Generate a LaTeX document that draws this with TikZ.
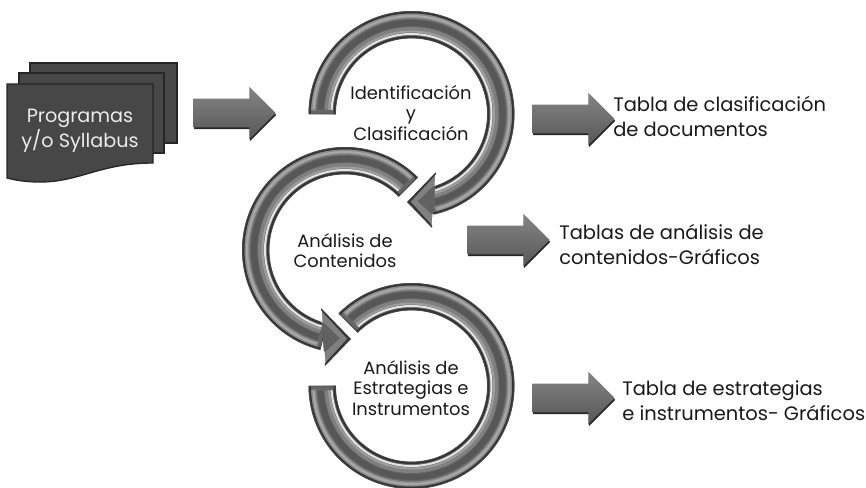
\documentclass[tikz,border=0pt]{standalone}
\usepackage{fontspec}
\setmainfont{Poppins}
\usetikzlibrary{shapes.arrows,shadows,calc}

\tikzset{
  page/.style={fill=black!72, draw=black!85, line width=1pt},
  pagetext/.style={align=center, inner sep=0pt, text=black!8, font=\fontsize{14.4}{18.5}\selectfont},
  ringtext/.style={align=center, inner sep=0pt, text=black!90, font=\fontsize{13.4}{15.5}\selectfont},
  outtext/.style={align=left, anchor=west, inner sep=0pt, text=black!90, font=\fontsize{14.6}{18.75}\selectfont},
  blockarrow/.style={single arrow, anchor=tip, inner xsep=0pt, inner ysep=10.5pt, minimum height=61.5pt,
    single arrow head extend=9pt, top color=black!48, bottom color=black!66,
    drop shadow={shadow xshift=0.4pt, shadow yshift=-1.4pt, fill=black!85, opacity=1}},
  bandedge/.style={draw=black!72, line width=0.6pt}
}

% one bent band: centre x, centre y, start angle, end angle
\newcommand{\ringband}[4]{
  \pgfmathsetmacro{\bandsign}{sign(#4-#3)}
  \foreach \bandrad/\bandwid/\bandgray/\bandinset in
    {89.5/27/60/0, 101.5/2/80/0, 77/2/80/0, 98/5/46/2, 98/2/34/3, 91/6/66/3, 84.5/5/50/3, 82.5/2/38/3, 80/2/10/3}{
    \pgfmathsetmacro{\bandfrom}{#3+\bandsign*\bandinset}
    \pgfmathsetmacro{\bandto}{#4-\bandsign*\bandinset}
    \draw[line width=\bandwid*0.75pt, black!\bandgray] ([shift=(\bandfrom:\bandrad)]#1,#2) arc (\bandfrom:\bandto:\bandrad);
  }
  \draw[bandedge] ([shift=(#3:102.5)]#1,#2) arc (#3:#4:102.5) -- ([shift=(#4:76)]#1,#2) arc (#4:#3:76) -- cycle;
}

% arrow head of a band: tip, first corner, second corner
\newcommand{\ringhead}[3]{
  \coordinate (headtip) at #1;
  \coordinate (heada) at #2;
  \coordinate (headb) at #3;
  \coordinate (headm) at ($(heada)!.5!(headb)$);
  \fill[black!78] (headtip) -- (heada) -- (headb) -- cycle;
  \fill[black!50] ($(headtip)!.14!(headm)$) -- ($(heada)!.1!(headm)$) -- (headm) -- ($(headb)!.1!(headm)$) -- cycle;
  \fill[black!62] ($(headtip)!.4!(headm)$) -- ($(heada)!.45!(headm)$) -- ($(headb)!.45!(headm)$) -- cycle;
  \draw[white, line width=0.8pt] ($(heada)!.1!(headm)$) -- ($(heada)!.5!(headm)$);
  \draw[white, line width=0.8pt] ($(headb)!.1!(headm)$) -- ($(headb)!.5!(headm)$);
}

\begin{document}
\begin{tikzpicture}[x=0.75pt, y=0.75pt]
  \useasboundingbox (0,0) rectangle (866,487);

  % Pages
  \draw[page] (30,424) -- (177,424) -- (177,344) -- (30,344) -- cycle;
  \draw[page] (19,414) -- (164,414) -- (164,334) -- (19,334) -- cycle;
  \draw[page] (7,403) -- (153,403) -- (153,324) .. controls (100,324) and (80,305) .. (40,305) .. controls (25,305) and (15,307) .. (7,309) -- cycle;
  \node[pagetext] at (80,356) (programas) {Programas\\y/o Syllabus};

  % Rings
  \ringband{411.5}{373}{180}{-78}
  \ringband{345}{237}{45}{256}
  \ringband{411.5}{101}{135}{-180}
  \ringhead{(407,285)}{(436,315)}{(432,259)}
  \ringhead{(351,148)}{(321,179)}{(325,121)}

  % Block arrows
  \node[blockarrow] at (276,374) (arrowin) {};
  \node[blockarrow] at (615,368) (arrowa) {};
  \node[blockarrow] at (550,247) (arrowb) {};
  \node[blockarrow] at (615,89) (arrowc) {};

  % Nodes
  \node[ringtext] at (411,374) (identificacion) {Identificación\\y\\Clasificación};
  \node[ringtext] at (345,236.5) (contenidos) {Análisis de\\Contenidos};
  \node[ringtext] at (411,99) (estrategias) {Análisis de\\Estrategias e\\Instrumentos};
  \node[outtext] at (613,370.5) (tablaa) {Tabla de clasificación\\de documentos};
  \node[outtext] at (559,242.5) (tablab) {Tablas de análisis de\\contenidos-Gráficos};
  \node[outtext] at (622,86.5) (tablac) {Tabla de estrategias\\e instrumentos- Gráficos};
\end{tikzpicture}
\end{document}
